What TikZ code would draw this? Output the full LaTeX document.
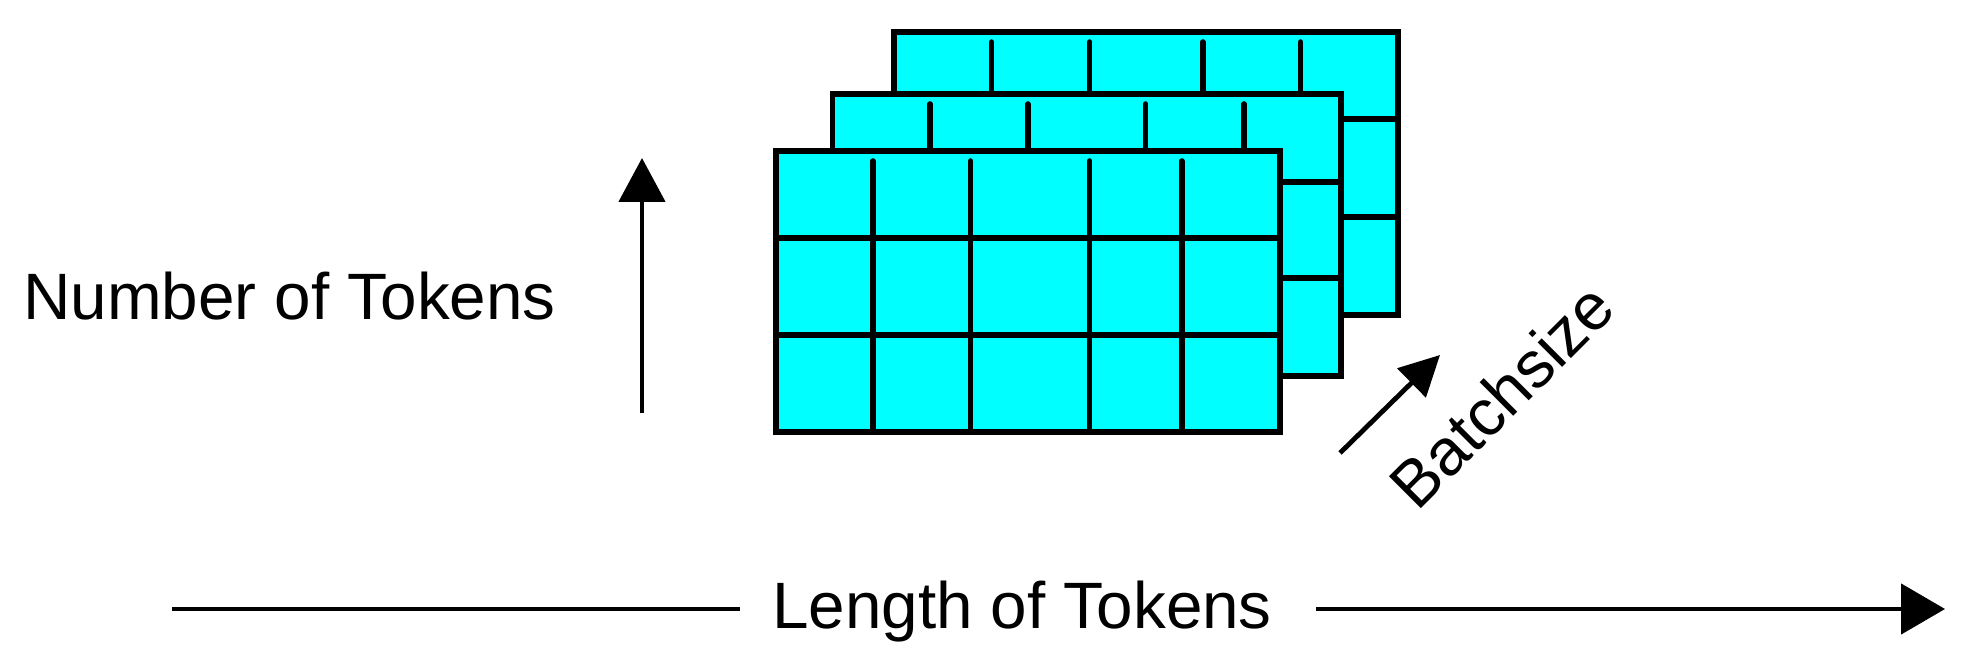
\documentclass[tikz,border=0pt]{standalone}
\usepackage{fontspec}
\setmainfont{Liberation Sans}
\usetikzlibrary{arrows.meta}
\definecolor{gridcyan}{HTML}{00FFFF}
\tikzset{
  gridline/.style={line width=2.8pt, line cap=round, line join=miter},
  axisline/.style={line width=2.4pt},
  axisarrow/.style={line width=2.4pt, -{Triangle[length=22pt,width=23pt]}},
  lbl/.style={font=\fontsize{32.8pt}{39pt}\selectfont, inner sep=0pt},
}
\newcommand{\tokgrid}[3]{% #1 x list, #2 y list, #3 bounds: x0/y0/x1/y1
  \foreach \xa/\ya/\xb/\yb in {#3}{
    \filldraw[gridline, fill=gridcyan] (\xa,\ya) rectangle (\xb,\yb);
    \foreach \yy in {#2} \draw[gridline] (\xa,\yy) -- (\xb,\yy);
    \foreach \xx in {#1} \draw[gridline] (\xx,\ya+10) -- (\xx,\yb);
  }
}
\begin{document}
\begin{tikzpicture}[x=0.5pt, y=-0.5pt]
\useasboundingbox (0,0) rectangle (1968,656);
% back, middle, front grids
\tokgrid{991.5,1089.6,1202.8,1300.5}{119,217}{893.9/32/1397.7/315}
\tokgrid{930.1,1027.7,1145.6,1244.1}{182,278}{832.4/94/1340.9/376}
\tokgrid{872.8,970.5,1089.6,1181.8}{238,335}{776/151/1279.8/432}
% labels
\node[lbl, anchor=base west] (num) at (23,320) {Number of Tokens};
\node[lbl, anchor=base, inner xsep=16pt] (len) at (1022,628) {Length of Tokens};
\node[lbl, anchor=base, rotate=45] (batch) at (1518,412) {Batchsize};
% arrows
\coordinate (upS) at (642,413);
\coordinate (upE) at (642,158);
\draw[axisarrow] (upS) -- (upE);
\coordinate (lenS) at (172,609);
\coordinate (lenE) at (1945,609);
\draw[axisline] (lenS) -- (len.west |- lenS);
\draw[axisarrow, -{Triangle[length=22pt,width=25pt]}] ([xshift=6pt]len.east |- lenE) -- (lenE);
\coordinate (bS) at (1340,453);
\coordinate (bE) at (1440,355);
\draw[axisline, -{Triangle[length=20pt,width=20pt]}] (bS) -- (bE);
\end{tikzpicture}
\end{document}
